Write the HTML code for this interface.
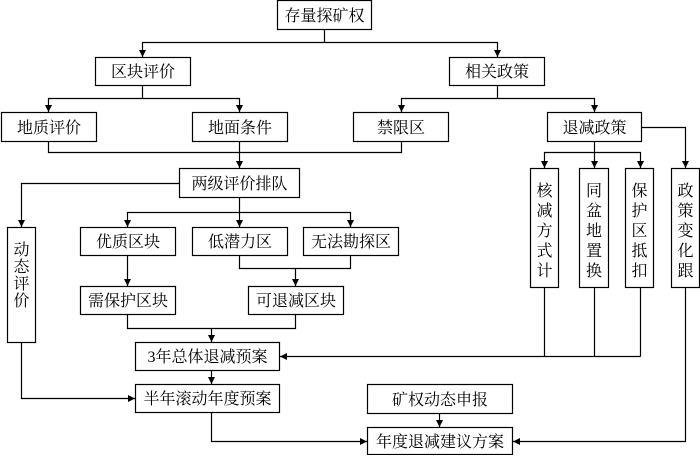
<!DOCTYPE html>
<html><head><meta charset="utf-8"><style>
html,body{margin:0;padding:0;background:#fff;}
svg text{font-family:"Liberation Serif","Noto Serif CJK SC",serif;font-size:16px;fill:#000;}
</style></head><body>
<svg width="700" height="455" viewBox="0 0 700 455" xmlns="http://www.w3.org/2000/svg">
<defs><marker id="a" markerWidth="8" markerHeight="8" refX="7" refY="4" orient="auto" markerUnits="userSpaceOnUse"><path d="M0,0.5 L7,4 L0,7.5 Z" fill="#000"/></marker></defs>
<g fill="#fff" stroke="#000" stroke-width="1.2">
<rect x="277.5" y="0.5" width="94" height="29"/>
<rect x="95.5" y="57.5" width="95" height="28"/>
<rect x="449.5" y="57.5" width="95" height="28"/>
<rect x="1.5" y="112.5" width="95" height="29"/>
<rect x="192.5" y="112.5" width="95" height="29"/>
<rect x="353.5" y="112.5" width="95" height="29"/>
<rect x="547.5" y="112.5" width="94" height="29"/>
<rect x="179.5" y="168.5" width="120" height="29"/>
<rect x="80.5" y="227.5" width="95" height="28"/>
<rect x="192.5" y="227.5" width="95" height="28"/>
<rect x="303.5" y="227.5" width="95" height="28"/>
<rect x="7.5" y="227.5" width="28" height="115"/>
<rect x="80.5" y="286.5" width="95" height="28"/>
<rect x="248.5" y="286.5" width="95" height="28"/>
<rect x="135.5" y="342.5" width="144" height="28"/>
<rect x="135.5" y="384.5" width="144" height="28"/>
<rect x="367.5" y="384.5" width="145" height="29"/>
<rect x="367.5" y="427.5" width="145" height="27"/>
<rect x="530.5" y="168.5" width="28" height="119"/>
<rect x="579.5" y="168.5" width="29" height="119"/>
<rect x="625.5" y="168.5" width="28" height="119"/>
<rect x="671.5" y="168.5" width="28" height="119"/>
</g>
<g fill="none" stroke="#000" stroke-width="1.2">
<path d="M324.5 29V42.5H142.5V57" marker-end="url(#a)"/>
<path d="M324.5 42.5H497.5V57" marker-end="url(#a)"/>
<path d="M142.5 85V98.5H48.5V112" marker-end="url(#a)"/>
<path d="M142.5 98.5H239.5V112" marker-end="url(#a)"/>
<path d="M497.5 85V98.5H401.5V112" marker-end="url(#a)"/>
<path d="M497.5 98.5H594.5V112" marker-end="url(#a)"/>
<path d="M48.5 141V152.5H401.5V141"/>
<path d="M239.5 141V168" marker-end="url(#a)"/>
<path d="M179 183.5H21.5V227" marker-end="url(#a)"/>
<path d="M239.5 197V212.5H127.5V227" marker-end="url(#a)"/>
<path d="M239.5 212.5V227" marker-end="url(#a)"/>
<path d="M239.5 212.5H350.5V227" marker-end="url(#a)"/>
<path d="M127.5 255V286" marker-end="url(#a)"/>
<path d="M239.5 255V268.5H350.5V255"/>
<path d="M295.5 268.5V286" marker-end="url(#a)"/>
<path d="M127.5 314V328.5H295.5V314"/>
<path d="M211.5 328.5V342" marker-end="url(#a)"/>
<path d="M211.5 370V384" marker-end="url(#a)"/>
<path d="M21.5 342V398.5H135" marker-end="url(#a)"/>
<path d="M211.5 412V441.5H367" marker-end="url(#a)"/>
<path d="M439.5 413V427" marker-end="url(#a)"/>
<path d="M641 127.5H685.5V168" marker-end="url(#a)"/>
<path d="M594.5 141V152.5H544.5V168" marker-end="url(#a)"/>
<path d="M594.5 152.5V168" marker-end="url(#a)"/>
<path d="M594.5 152.5H640.5V168" marker-end="url(#a)"/>
<path d="M544.5 287V356.5M594.5 287V356.5M640.5 287V356.5"/>
<path d="M640.5 356.5H280" marker-end="url(#a)"/>
<path d="M685.5 287V441.5H513" marker-end="url(#a)"/>
</g>
<g text-anchor="middle">
<text x="324.5" y="21">存量探矿权</text>
<text x="143" y="77">区块评价</text>
<text x="497" y="77">相关政策</text>
<text x="49" y="133">地质评价</text>
<text x="240" y="133">地面条件</text>
<text x="401" y="133">禁限区</text>
<text x="594.5" y="133">退减政策</text>
<text x="239.5" y="189">两级评价排队</text>
<text x="128" y="247">优质区块</text>
<text x="240" y="247">低潜力区</text>
<text x="351" y="247">无法勘探区</text>
<text x="128" y="306">需保护区块</text>
<text x="296" y="306">可退减区块</text>
<text x="207.5" y="362">3年总体退减预案</text>
<text x="207.5" y="404">半年滚动年度预案</text>
<text x="440" y="405">矿权动态申报</text>
<text x="440" y="447">年度退减建议方案</text>
</g>
<g text-anchor="middle">
<text x="21.5" y="255">动</text><text x="21.5" y="272">态</text><text x="21.5" y="289">评</text><text x="21.5" y="306">价</text>
<text x="544.5" y="196">核</text><text x="544.5" y="216">减</text><text x="544.5" y="236">方</text><text x="544.5" y="256">式</text><text x="544.5" y="276">计</text>
<text x="544.5" y="280" style="display:none"></text>
<text x="594" y="196">同</text><text x="594" y="216">盆</text><text x="594" y="236">地</text><text x="594" y="256">置</text><text x="594" y="276">换</text>
<text x="639.5" y="196">保</text><text x="639.5" y="216">护</text><text x="639.5" y="236">区</text><text x="639.5" y="256">抵</text><text x="639.5" y="276">扣</text>
<text x="685.5" y="196">政</text><text x="685.5" y="216">策</text><text x="685.5" y="236">变</text><text x="685.5" y="256">化</text><text x="685.5" y="276">跟</text>
</g>
</svg>
</body></html>
